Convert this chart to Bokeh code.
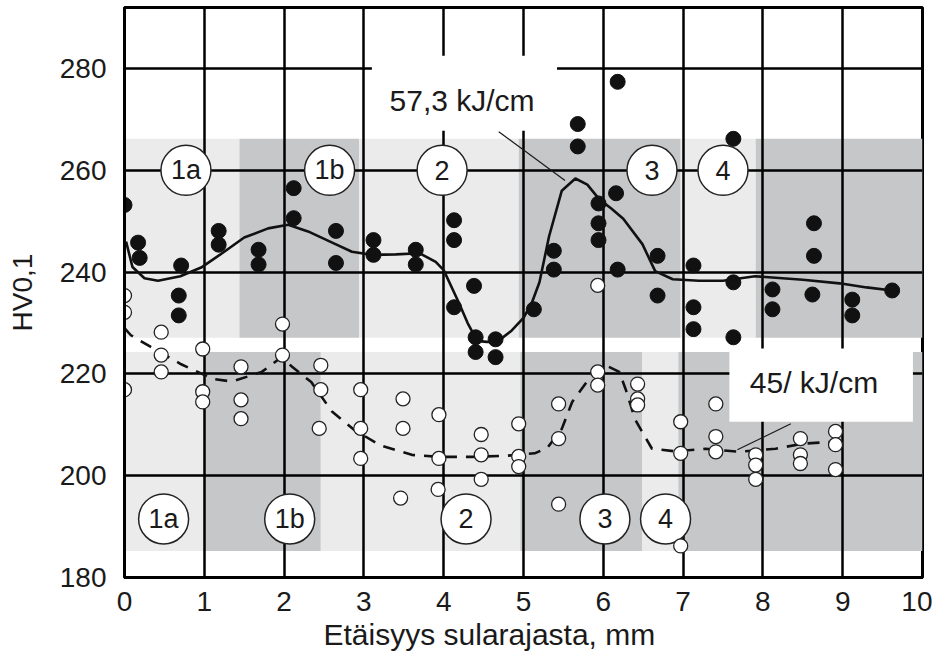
from bokeh.plotting import figure
from bokeh.models import Range1d, FixedTicker, Title
from bokeh.core.properties import value
from bokeh.embed import file_html
from bokeh.resources import INLINE

FONT = "Liberation Sans"
LIGHT = "#ebebeb"
DARK = "#c6c7c9"
INK = "#1a1a1a"

# ---- axes ----
x_ticks = [0, 1, 2, 3, 4, 5, 6, 7, 8, 9, 10]
y_ticks = [180, 200, 220, 240, 260, 280]
x_title = "Etäisyys sularajasta, mm"
y_title = "HV0,1"

# ---- shaded zones (upper = 57,3 kJ/cm, lower = 45 kJ/cm) ----
upper_left = [0, 1.44, 2.94, 4.94, 6.97, 7.91]
upper_right = [1.44, 2.94, 4.94, 6.97, 7.91, 10]
upper_shade = [LIGHT, DARK, LIGHT, DARK, LIGHT, DARK]
upper_bottom = 227.1
upper_top = 266.2

lower_left = [0, 0.99, 2.46, 4.96, 6.49, 6.94]
lower_right = [0.99, 2.46, 4.96, 6.49, 6.94, 10]
lower_shade = [LIGHT, DARK, LIGHT, DARK, LIGHT, DARK]
lower_bottom = 185.2
lower_top = 224.3

# ---- zone labels ----
zone_names = ["1a", "1b", "2", "3", "4"]
upper_zone_x = [0.77, 2.57, 3.98, 6.61, 7.5]
upper_zone_y = [260, 260, 260, 260, 260]
lower_zone_x = [0.49, 2.07, 4.28, 6.02, 6.78]
lower_zone_y = [191.5, 191.5, 191.5, 191.5, 191.5]

# ---- measured hardness, 57,3 kJ/cm (filled) ----
hi_x = [0, 0.17, 0.19, 0.71, 0.68, 0.68, 1.18, 1.18, 1.68, 1.68, 2.12, 2.12,
        2.65, 2.65, 3.12, 3.12, 3.65, 3.65, 4.13, 4.13, 4.13, 4.38, 4.4, 4.4,
        4.65, 4.65, 5.13, 5.38, 5.38, 5.68, 5.68, 5.94, 5.94, 5.94, 6.16, 6.18,
        6.18, 6.68, 6.68, 7.13, 7.13, 7.13, 7.63, 7.63, 7.63, 8.12, 8.12, 8.64,
        8.64, 8.62, 9.12, 9.12, 9.62]
hi_y = [253.2, 245.8, 242.8, 241.3, 235.4, 231.5, 248.1, 245.4, 244.4, 241.5,
        256.5, 250.6, 248.1, 241.8, 246.3, 243.4, 244.4, 241.5, 250.2, 246.3,
        233.1, 237.3, 227.2, 224.3, 226.8, 223.3, 232.7, 244.2, 240.5, 269.1,
        264.7, 253.5, 249.6, 246.3, 255.5, 277.4, 240.5, 243.2, 235.4, 241.3,
        233.1, 228.8, 266.2, 238.0, 227.2, 236.6, 232.7, 249.6, 243.2, 235.6,
        234.6, 231.5, 236.4]

# ---- measured hardness, 45 kJ/cm (open) ----
lo_x = [0, 0, 0, 0.46, 0.46, 0.46, 0.98, 0.98, 0.98, 1.46, 1.46, 1.46,
        1.98, 1.98, 2.46, 2.46, 2.44, 2.96, 2.96, 2.96, 3.49, 3.49, 3.46,
        3.94, 3.94, 3.93, 4.47, 4.47, 4.47, 4.94, 4.94, 4.94, 5.44, 5.44, 5.44,
        5.93, 5.93, 5.93, 6.43, 6.43, 6.43, 6.97, 6.97, 6.97, 7.41, 7.41, 7.41,
        7.91, 7.91, 7.91, 8.47, 8.47, 8.47, 8.91, 8.91, 8.91]
lo_y = [235.4, 232.1, 216.9, 228.2, 223.7, 220.4, 224.9, 216.5, 214.5,
        221.4, 214.9, 211.2, 229.8, 223.7, 221.7, 216.9, 209.3, 216.9, 209.3,
        203.4, 215.1, 209.3, 195.6, 212.0, 203.4, 197.3, 208.1, 204.1, 199.3,
        210.2, 203.8, 201.8, 214.1, 207.3, 194.4, 237.4, 220.4, 217.8, 218.0,
        215.1, 213.9, 210.6, 204.4, 186.2, 214.1, 207.7, 204.7, 204.1, 202.1,
        199.3, 207.3, 204.1, 202.4, 208.7, 206.1, 201.2]

# ---- trend curves ----
hi_curve_x = [0.02, 0.1, 0.25, 0.42, 0.7, 0.96, 1.25, 1.5, 1.8, 2.05, 2.3, 2.63,
              2.85, 3.1, 3.4, 3.7, 3.9, 4.0, 4.19, 4.3, 4.42, 4.54, 4.67, 4.85,
              5.0, 5.1, 5.2, 5.32, 5.48, 5.65, 5.8, 5.95, 6.1, 6.25, 6.49, 6.65,
              6.87, 7.2, 7.5, 7.9, 8.5, 8.96, 9.3, 9.62]
hi_curve_y = [246, 241, 238.8, 238.3, 239.2, 240.9, 244, 246.8, 248.6, 249.3,
              248, 245.6, 244, 243.4, 243.5, 243.7, 242, 240.4, 234, 230,
              226.5, 226.3, 226.3, 228.5, 231, 233.8, 238, 247, 256, 258.4,
              257.2, 254.3, 252.5, 250.5, 245.5, 240.2, 238.6, 238.3, 238.3,
              239.2, 238.5, 237.8, 237, 236.4]

lo_curve_x = [0.0, 0.08, 0.33, 0.71, 1.11, 1.35, 1.72, 1.97, 2.1, 2.34, 2.6,
              2.88, 3.2, 3.6, 3.95, 4.35, 4.77, 5.14, 5.3, 5.48, 5.61, 5.82,
              6.03, 6.2, 6.28, 6.4, 6.61, 6.9, 7.28, 7.7, 8.16, 8.5, 9.0]
lo_curve_y = [229, 227.6, 225.3, 221.9, 219, 218.5, 220.4, 223.3, 221.4, 218.4,
              212.6, 209, 206, 204.1, 203.7, 203.7, 203.9, 204.4, 205.5, 209.2,
              214.5, 219, 221.7, 220.4, 217, 211, 205.3, 204.8, 205.3, 204.7,
              205.3, 206.3, 206.8]

# ---- annotations ----
hi_note = "57,3 kJ/cm"
hi_note_x, hi_note_y = 4.23, 273.7
hi_box = (3.1, 5.42, 267.8, 282.5)
hi_leader = (4.69, 267.6, 5.52, 258.0)

lo_note = "45/ kJ/cm"
lo_note_x, lo_note_y = 8.64, 218.4
lo_box = (7.58, 9.88, 210.6, 225.0)
lo_leader = (8.35, 210.2, 7.68, 205.1)

p = figure(width=932, height=659,
           x_range=Range1d(0, 10), y_range=Range1d(180, 292),
           output_backend="svg", toolbar_location=None,
           min_border_left=124, min_border_top=7, min_border_right=10,
           min_border_bottom=82)
p.background_fill_color = "white"
p.outline_line_color = "black"
p.outline_line_width = 3
p.outline_line_alpha = 1

for ax in (p.xaxis[0], p.yaxis[0]):
    ax.axis_line_width = 3
    ax.axis_line_color = "black"
    ax.major_tick_line_color = None
    ax.minor_tick_line_color = None
    ax.major_label_text_font = FONT
    ax.major_label_text_font_size = "28px"
    ax.major_label_text_color = INK
    ax.axis_label_text_font = FONT
    ax.axis_label_text_font_style = "normal"
    ax.axis_label_text_color = INK

p.xaxis.ticker = FixedTicker(ticks=x_ticks)
p.yaxis.ticker = FixedTicker(ticks=y_ticks)
p.yaxis.axis_label = y_title
p.yaxis.axis_label_text_font_size = "28px"
p.xaxis.major_label_standoff = 8
p.yaxis.major_label_standoff = 12
p.yaxis.axis_label_standoff = 19

# x-axis title, placed as in the original (slightly left of centre)
p.add_layout(Title(text=x_title, align="left", offset=199, standoff=5,
                   text_font=FONT, text_font_size="30px",
                   text_font_style="normal", text_color=INK), "below")

p.xgrid.grid_line_color = "black"
p.ygrid.grid_line_color = "black"
p.xgrid.grid_line_width = 2.5
p.ygrid.grid_line_width = 2.5
p.xgrid.grid_line_alpha = 1
p.ygrid.grid_line_alpha = 1

# zones beneath the grid
p.quad(left=upper_left, right=upper_right, bottom=upper_bottom, top=upper_top,
       fill_color=upper_shade, line_color=None, level="image")
p.quad(left=lower_left, right=lower_right, bottom=lower_bottom, top=lower_top,
       fill_color=lower_shade, line_color=None, level="image")

# white boxes behind the notes
p.quad(left=[hi_box[0], lo_box[0]], right=[hi_box[1], lo_box[1]],
       bottom=[hi_box[2], lo_box[2]], top=[hi_box[3], lo_box[3]],
       fill_color="white", line_color=None)

# leader lines
p.segment(x0=[hi_leader[0], lo_leader[0]], y0=[hi_leader[1], lo_leader[1]],
          x1=[hi_leader[2], lo_leader[2]], y1=[hi_leader[3], lo_leader[3]],
          line_color=INK, line_width=1.2)

# curves
p.line(hi_curve_x, hi_curve_y, line_color="#111111", line_width=2.6)
p.line(lo_curve_x, lo_curve_y, line_color="#111111", line_width=2.6,
       line_dash="12 9")

# notes
p.text(x=[hi_note_x, lo_note_x], y=[hi_note_y, lo_note_y],
       text=[hi_note, lo_note], text_align="center", text_baseline="middle",
       text_font=value(FONT), text_font_size="30px", text_color=INK)

# zone label circles
zx = upper_zone_x + lower_zone_x
zy = upper_zone_y + lower_zone_y
zt = zone_names + zone_names
p.scatter(zx, zy, marker="circle", size=50, fill_color="white",
          line_color="#222222", line_width=1.5)
p.text(x=zx, y=zy, text=zt, text_align="center", text_baseline="middle",
       text_font=value(FONT), text_font_size="27px", text_color=INK)

# data points
p.scatter(hi_x, hi_y, marker="circle", size=15, fill_color="#111111",
          line_color="#111111", line_width=1)
p.scatter(lo_x, lo_y, marker="circle", size=14, fill_color="white",
          line_color="#222222", line_width=1.3)

open("out.html", "w").write(file_html(p, INLINE))
